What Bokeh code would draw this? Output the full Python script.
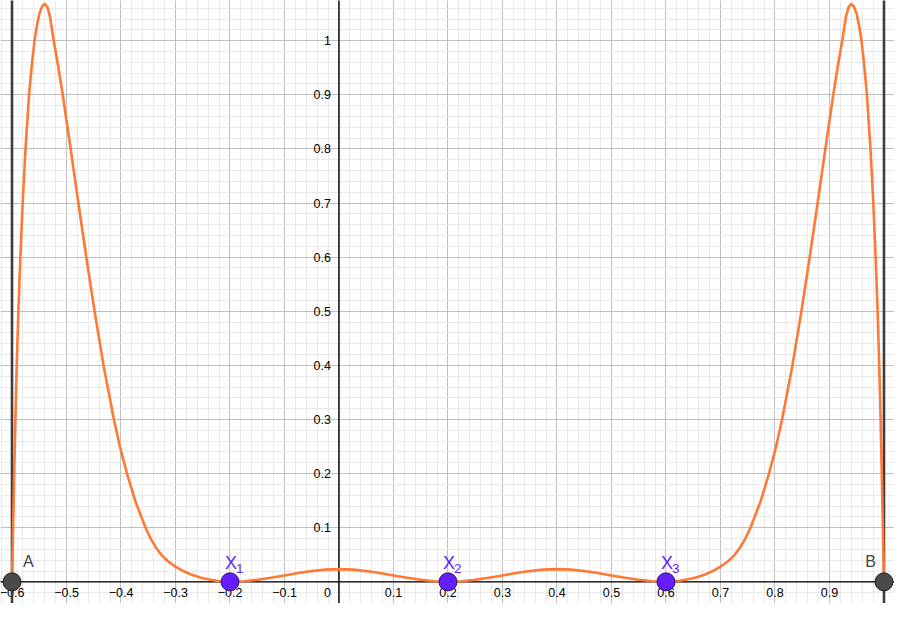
import numpy as np
from bokeh.plotting import figure
from bokeh.models import Range1d, FixedTicker, Grid
from bokeh.core.properties import value
from bokeh.embed import file_html
from bokeh.resources import INLINE

# ---------------- data ----------------
curve_x = [-0.600, -0.598, -0.596, -0.5938, -0.5913, -0.5883, -0.5847, -0.5804, -0.5752, -0.5687,
           -0.5642, -0.5587, -0.555, -0.550, -0.545, -0.540, -0.535, -0.530, -0.5234, -0.5148,
           -0.5069, -0.4924, -0.4782, -0.4637, -0.4485, -0.432, -0.413, -0.402, -0.389, -0.374,
           -0.355, -0.345, -0.335, -0.325, -0.315, -0.300, -0.285, -0.270, -0.255, -0.240,
           -0.225, -0.212, -0.200,
           -0.175, -0.150, -0.125, -0.100, -0.075, -0.050, -0.025, 0.000,
           0.025, 0.050, 0.075, 0.100, 0.125, 0.150, 0.175, 0.200,
           0.225, 0.250, 0.275, 0.300, 0.325, 0.350, 0.375, 0.400,
           0.425, 0.450, 0.475, 0.500, 0.525, 0.550, 0.575,
           0.600, 0.612, 0.625, 0.640, 0.655, 0.670, 0.685, 0.700, 0.715, 0.725,
           0.735, 0.745, 0.755, 0.774, 0.789, 0.802, 0.813, 0.832, 0.8485, 0.8637,
           0.8782, 0.8924, 0.9069, 0.9148, 0.9234, 0.930, 0.935, 0.940, 0.945, 0.950,
           0.955, 0.9587, 0.9642, 0.9687, 0.9752, 0.9804, 0.9847, 0.9883, 0.9913, 0.9938,
           0.996, 0.998, 1.000]
curve_y = [0.000, 0.100, 0.200, 0.300, 0.400, 0.500, 0.600, 0.700, 0.800, 0.900,
           0.950, 1.000, 1.024, 1.049, 1.063, 1.068, 1.062, 1.043, 1.000, 0.950,
           0.900, 0.800, 0.700, 0.600, 0.500, 0.400, 0.300, 0.250, 0.200, 0.150,
           0.100, 0.079, 0.062, 0.049, 0.039, 0.028, 0.0195, 0.013, 0.0082, 0.0047,
           0.0021, 0.0006, 0.000,
           0.0011, 0.0038, 0.0076, 0.0119, 0.0162, 0.0199, 0.0226, 0.0236,
           0.0226, 0.0199, 0.0162, 0.0119, 0.0076, 0.0038, 0.0011, 0.000,
           0.0011, 0.0038, 0.0076, 0.0119, 0.0162, 0.0199, 0.0226, 0.0236,
           0.0226, 0.0199, 0.0162, 0.0119, 0.0076, 0.0038, 0.0011,
           0.000, 0.0006, 0.0021, 0.0047, 0.0082, 0.013, 0.0195, 0.028, 0.039, 0.049,
           0.062, 0.079, 0.100, 0.150, 0.200, 0.250, 0.300, 0.400, 0.500, 0.600,
           0.700, 0.800, 0.900, 0.950, 1.000, 1.043, 1.062, 1.068, 1.063, 1.049,
           1.024, 1.000, 0.950, 0.900, 0.800, 0.700, 0.600, 0.500, 0.400, 0.300,
           0.200, 0.100, 0.000]

end_names = ["A", "B"]
end_x = [-0.6, 1.0]
end_y = [0.0, 0.0]

node_names = ["X", "X", "X"]
node_subs = ["1", "2", "3"]
node_x = [-0.2, 0.2, 0.6]
node_y = [0.0, 0.0, 0.0]

x_tick_vals = [-0.6, -0.5, -0.4, -0.3, -0.2, -0.1, 0.1, 0.2, 0.3, 0.4, 0.5, 0.6, 0.7, 0.8, 0.9]
x_tick_labels = ["\u22120.6", "\u22120.5", "\u22120.4", "\u22120.3", "\u22120.2", "\u22120.1",
                 "0.1", "0.2", "0.3", "0.4", "0.5", "0.6", "0.7", "0.8", "0.9"]
y_tick_vals = [0.1, 0.2, 0.3, 0.4, 0.5, 0.6, 0.7, 0.8, 0.9, 1.0]
y_tick_labels = ["0.1", "0.2", "0.3", "0.4", "0.5", "0.6", "0.7", "0.8", "0.9", "1"]
origin_label = ["0"]

# ---------------- view ----------------
X_MIN, X_MAX = -0.6211, 1.0193
Y_MIN, Y_MAX = -0.0400, 1.0743

FONT = value("Liberation Sans")

p = figure(width=894, height=603,
           x_range=Range1d(X_MIN, X_MAX), y_range=Range1d(Y_MIN, Y_MAX),
           x_axis_location=None, y_axis_location=None,
           output_backend="svg", toolbar_location=None, min_border=0,
           background_fill_color="white", border_fill_color="white")
p.outline_line_color = None
p.center = []

major_x = [round(v, 2) for v in np.arange(-0.7, 1.11, 0.1)]
minor_x = [round(v, 2) for v in np.arange(-0.64, 1.05, 0.02)]
major_y = [round(v, 2) for v in np.arange(-0.1, 1.21, 0.1)]
minor_y = [round(v, 2) for v in np.arange(-0.06, 1.1, 0.02)]

for dim, mj, mn in ((0, major_x, minor_x), (1, major_y, minor_y)):
    g = Grid(dimension=dim, ticker=FixedTicker(ticks=mj, minor_ticks=mn),
             grid_line_color="#bfbfbf", grid_line_width=1,
             minor_grid_line_color="#e9e9e9", minor_grid_line_width=1)
    p.add_layout(g, "center")

# axes lines
p.segment(x0=[X_MIN - 1], y0=[0], x1=[X_MAX + 1], y1=[0], line_color="black", line_width=1.4)
p.segment(x0=[0], y0=[Y_MIN - 1], x1=[0], y1=[Y_MAX + 1], line_color="black", line_width=1.4)

# tick labels
p.text(x=x_tick_vals, y=[0] * len(x_tick_vals), text=x_tick_labels,
       text_font=FONT, text_font_size="12.5px", text_color="black",
       text_align="center", text_baseline="middle", y_offset=11)
p.text(x=[0] * len(y_tick_vals), y=y_tick_vals, text=y_tick_labels,
       text_font=FONT, text_font_size="12.5px", text_color="black",
       text_align="right", text_baseline="middle", x_offset=-8)
p.text(x=[0], y=[0], text=origin_label,
       text_font=FONT, text_font_size="12.5px", text_color="black",
       text_align="right", text_baseline="middle", x_offset=-8, y_offset=11)

# vertical boundary lines at A and B
p.segment(x0=end_x, y0=[Y_MIN - 1] * 2, x1=end_x, y1=[Y_MAX + 1] * 2,
          line_color="#3d3d3d", line_width=2.6)

# curve
p.line(curve_x, curve_y, line_color="#ff7834", line_width=2.6, line_join="round")

# points
p.scatter(end_x, end_y, size=18, fill_color="#4a4a4a", line_color="#1c1c1c", line_width=1)
p.scatter(node_x, node_y, size=18, fill_color="#651fff", line_color="#26105e", line_width=1)

# point labels
p.text(x=[end_x[0]], y=[end_y[0]], text=[end_names[0]], text_font=FONT,
       text_font_size="16px", text_color="#444444", text_align="left",
       text_baseline="alphabetic", x_offset=11, y_offset=-20)
p.text(x=[end_x[1]], y=[end_y[1]], text=[end_names[1]], text_font=FONT,
       text_font_size="16px", text_color="#444444", text_align="right",
       text_baseline="alphabetic", x_offset=-8, y_offset=-20)
p.text(x=node_x, y=node_y, text=node_names, text_font=FONT,
       text_font_size="18px", text_color="#651fff", text_align="left",
       text_baseline="alphabetic", x_offset=-5, y_offset=-19)
p.text(x=node_x, y=node_y, text=node_subs, text_font=FONT,
       text_font_size="13.5px", text_color="#651fff", text_align="left",
       text_baseline="alphabetic", x_offset=6, y_offset=-13)

open("out.html", "w").write(file_html(p, INLINE))
